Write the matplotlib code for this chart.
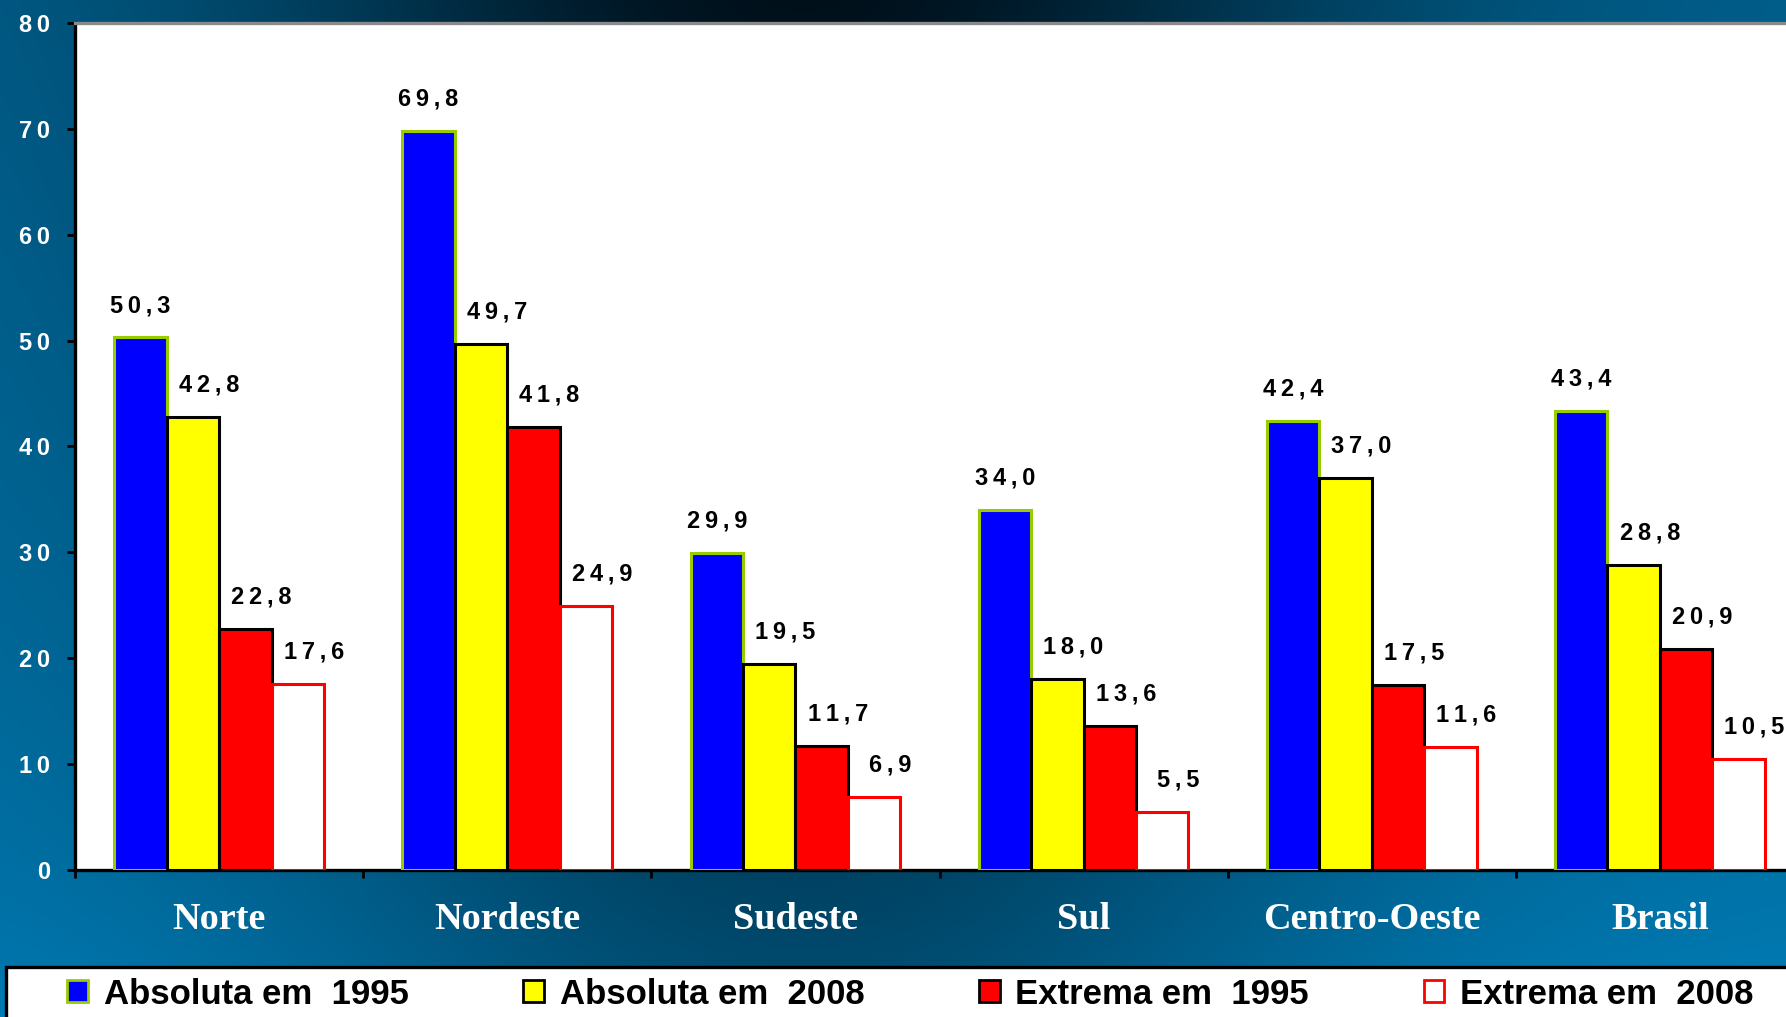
import matplotlib
matplotlib.use("Agg")
import matplotlib.pyplot as plt
from matplotlib.patches import Rectangle, Patch
import numpy as np

regions = ["Norte", "Nordeste", "Sudeste", "Sul", "Centro-Oeste", "Brasil"]
absoluta_1995 = [50.3, 69.8, 29.9, 34.0, 42.4, 43.4]
absoluta_2008 = [42.8, 49.7, 19.5, 18.0, 37.0, 28.8]
extrema_1995 = [22.8, 41.8, 11.7, 13.6, 17.5, 20.9]
extrema_2008 = [17.6, 24.9, 6.9, 5.5, 11.6, 10.5]
series_names = ["Absoluta em  1995", "Absoluta em  2008", "Extrema em  1995", "Extrema em  2008"]
y_ticks = [0, 10, 20, 30, 40, 50, 60, 70, 80]

faces = ["#0000FF", "#FFFF00", "#FF0000", "#FFFFFF"]
edges = ["#99CC00", "#000000", "#000000", "#FF0000"]
label_shift = [0, 16, 16, 16]  # pixels, value labels sit a bit to the right

SP = "\u2009"  # the original numbers are letter-spaced


def spaced(s):
    return SP.join(s)


fig = plt.figure(figsize=(17.86, 10.17), dpi=100)

# gradient background
bg = fig.add_axes([0, 0, 1, 1], zorder=-10)
gx, gy = np.meshgrid(np.linspace(0, 1, 400), np.linspace(0, 1, 240))
h = np.exp(-((gx - 0.45) / 0.3) ** 2)
a = 0.3 * np.sqrt(gy) + 0.4 * h + 0.28 * h * gy
a = np.clip(a, 0, 1)[..., None]
light = np.array([0, 130, 190]) / 255
dark = np.array([0, 14, 24]) / 255
img = light * (1 - a) + dark * a
bg.imshow(img, origin="lower", extent=[0, 1, 0, 1], aspect="auto")
bg.axis("off")

ax = fig.add_axes([75 / 1786, 147 / 1017, 1729 / 1786, 847 / 1017])
ax.set_facecolor("white")

centers = np.arange(len(regions)) + 0.5
w = 0.182
all_series = [absoluta_1995, absoluta_2008, extrema_1995, extrema_2008]
for k, vals in enumerate(all_series):
    xs = centers + (k - 1.5) * w
    ax.bar(xs, vals, width=w, color=faces[k], edgecolor=edges[k], linewidth=2.2, zorder=3)
    for x, v in zip(xs, vals):
        ax.annotate(spaced(f"{v:.1f}".replace(".", ",")), (x, v),
                    xytext=(label_shift[k] * 0.72, 23),
                    textcoords="offset points", ha="center", va="center",
                    fontsize=17, fontweight="bold", family="Liberation Sans", color="black",
                    annotation_clip=False)

ax.set_xlim(0, len(regions))
ax.set_ylim(0, 80)
ax.set_yticks(y_ticks)
ax.set_yticklabels([spaced(str(t)) for t in y_ticks], color="white", fontsize=17,
                   fontweight="bold", family="Liberation Sans")
ax.tick_params(axis="y", direction="out", length=6, width=2, color="black", pad=12)

ax.set_xticks(np.arange(len(regions) + 1))
ax.set_xticklabels([])
ax.tick_params(axis="x", which="major", direction="out", length=6, width=2, color="black")
ax.set_xticks(centers, minor=True)
ax.set_xticklabels(regions, minor=True, color="white", fontsize=27.5,
                   fontweight="bold", family="Liberation Serif")
ax.tick_params(axis="x", which="minor", length=0, pad=23)

for s in ["left", "bottom"]:
    ax.spines[s].set_linewidth(2.4)
    ax.spines[s].set_color("black")
ax.spines["top"].set_color("#8a8a8a")
ax.spines["top"].set_linewidth(2.4)
ax.spines["right"].set_visible(False)

# legend box along the bottom
fig.patches.append(Rectangle((6 / 1786, -0.02), 1.0, 50 / 1017 + 0.02, transform=fig.transFigure,
                             facecolor="white", edgecolor="black", linewidth=2.4, zorder=5))
handles = [Patch(facecolor=faces[k], edgecolor=edges[k], linewidth=2) for k in range(4)]
leg = fig.legend(handles, series_names, loc="center left", bbox_to_anchor=(36 / 1786, 23 / 1017),
                 ncol=4, frameon=False, handlelength=0.6, handleheight=0.6,
                 handletextpad=0.45, columnspacing=3.3,
                 prop={"family": "Liberation Sans", "weight": "bold", "size": 25})
leg.set_zorder(6)

fig.savefig("out.png", dpi=100)
